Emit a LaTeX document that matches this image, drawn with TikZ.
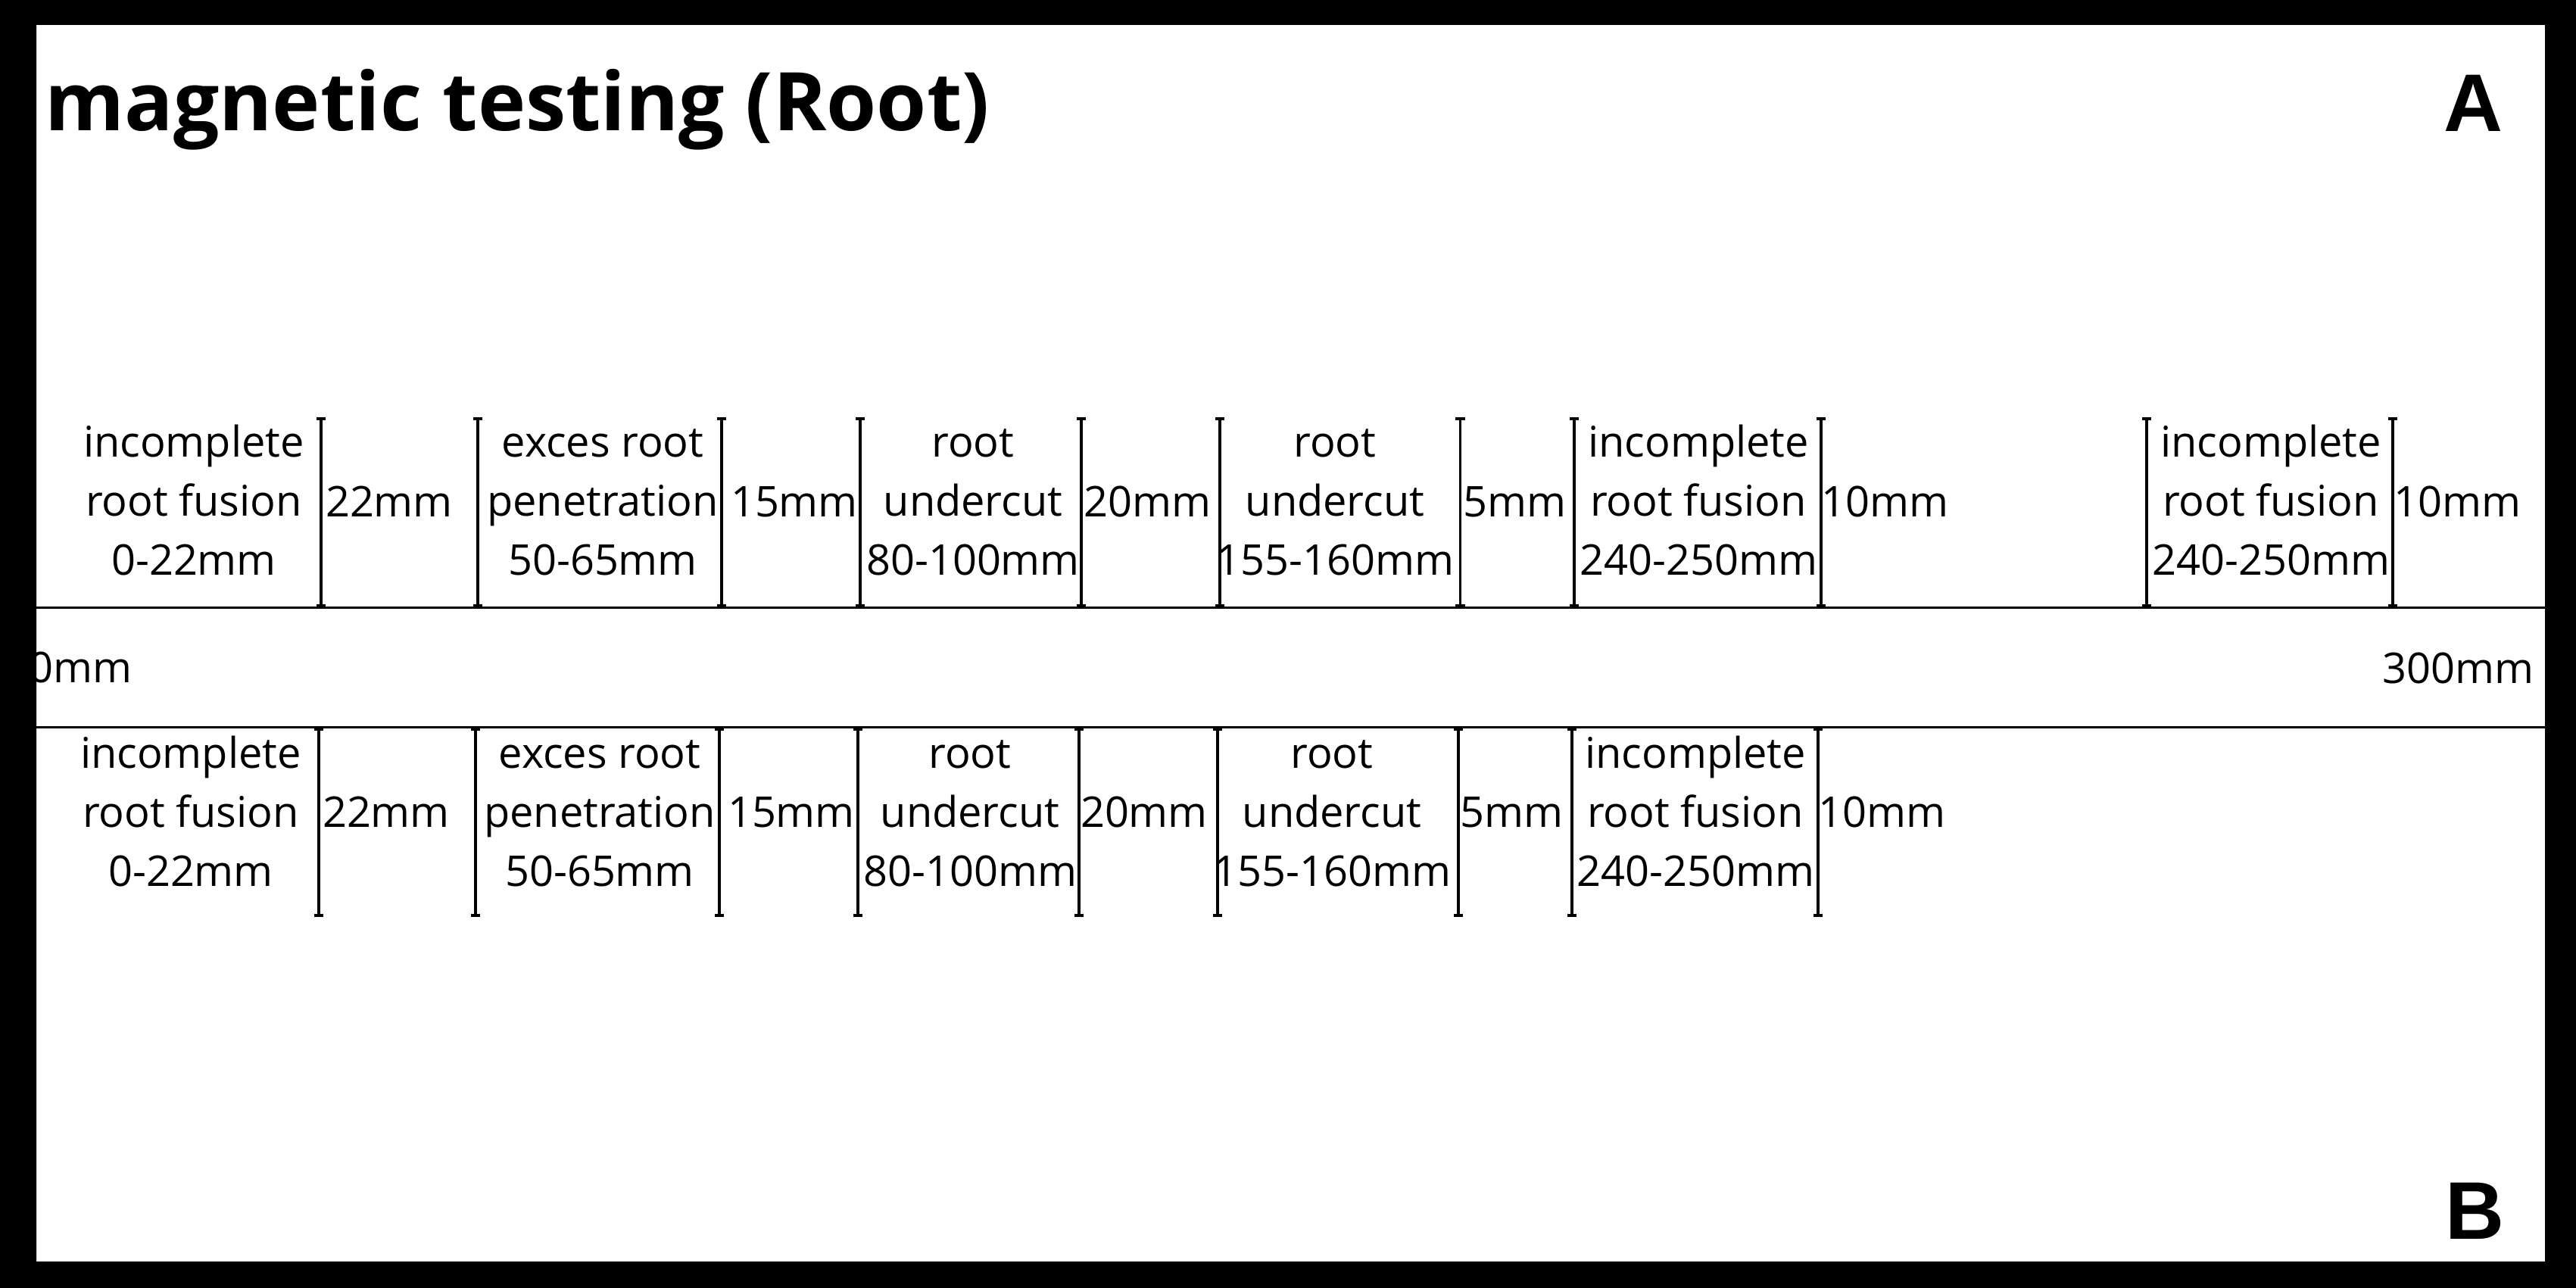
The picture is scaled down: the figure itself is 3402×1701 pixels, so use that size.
\documentclass[tikz,border=0pt]{standalone}
\usepackage{fontspec}
\setmainfont{Open Sans}
\newfontfamily\letterfont{Liberation Sans}
\usetikzlibrary{arrows.meta}
\begin{document}
\begin{tikzpicture}[x=0.01cm,y=-0.01cm,
  lbl/.style={inner sep=0pt,anchor=base,align=center,
    font=\fontsize{15.9}{22.2}\selectfont},
  dimbar/.style={line width=1pt,{Bar[width=3.5pt,line width=1.2pt]}-{Bar[width=3.5pt,line width=1.2pt]}},
  axisline/.style={line width=1.1pt},
  titlefont/.style={inner sep=0pt,font=\fontsize{30.4}{36}\selectfont\bfseries},
  cornerletter/.style={inner sep=0pt,anchor=base east,font=\fontsize{30.7}{36}\selectfont\letterfont\bfseries}]
\useasboundingbox (0,0) rectangle (3402,1701);
\fill[white] (0,0) rectangle (3402,1701);

% title and panel letters
\node[titlefont,anchor=base west] (title) at (59,173) {magnetic testing (Root)};
\node[cornerletter] (la) at (3306,174) {A};
\node[cornerletter] (lb) at (3308,1636) {B};

% weld length axis
\coordinate (axL1) at (48,802.5);
\coordinate (axR1) at (3361,802.5);
\coordinate (axL2) at (48,960.5);
\coordinate (axR2) at (3361,960.5);
\draw[axisline] (axL1) -- (axR1);
\draw[axisline] (axL2) -- (axR2);
\node[lbl,anchor=base east] (zero) at (175,902) {0mm};
\node[lbl] (end) at (3246,903) {300mm};

% upper row: dimension bars
\foreach \x [count=\i] in {424,631,953,1136,1428,1611,1928.5,2079,2405,2835,3160}{
  \coordinate (ut\i) at (\x,551);
  \coordinate (ub\i) at (\x,802);
  \draw[dimbar] (ut\i) -- (ub\i);
}
% upper row: labels (anchored on the baseline of the last line)
\node[lbl] (u1) at (256,760) {incomplete\\root fusion\\0-22mm};
\node[lbl] (ud1) at (514,683) {22mm};
\node[lbl] (u2) at (796,760) {exces root\\penetration\\50-65mm};
\node[lbl] (ud2) at (1049,683) {15mm};
\node[lbl] (u3) at (1285,760) {root\\undercut\\80-100mm};
\node[lbl] (ud3) at (1515,683) {20mm};
\node[lbl] (u4) at (1763,760) {root\\undercut\\155-160mm};
\node[lbl] (ud4) at (2000,683) {5mm};
\node[lbl] (u5) at (2243,760) {incomplete\\root fusion\\240-250mm};
\node[lbl] (ud5) at (2489,683) {10mm};
\node[lbl] (u6) at (2999,760) {incomplete\\root fusion\\240-250mm};
\node[lbl] (ud6) at (3245,683) {10mm};

% lower row: dimension bars
\foreach \x [count=\i] in {421,628,950,1133,1425,1608,1926,2076,2401}{
  \coordinate (lt\i) at (\x,961);
  \coordinate (lo\i) at (\x,1211);
  \draw[dimbar] (lt\i) -- (lo\i);
}
% lower row: labels
\node[lbl] (b1) at (252,1171) {incomplete\\root fusion\\0-22mm};
\node[lbl] (bd1) at (510,1093) {22mm};
\node[lbl] (b2) at (792,1171) {exces root\\penetration\\50-65mm};
\node[lbl] (bd2) at (1045,1093) {15mm};
\node[lbl] (b3) at (1281,1171) {root\\undercut\\80-100mm};
\node[lbl] (bd3) at (1511,1093) {20mm};
\node[lbl] (b4) at (1759,1171) {root\\undercut\\155-160mm};
\node[lbl] (bd4) at (1996,1093) {5mm};
\node[lbl] (b5) at (2239,1171) {incomplete\\root fusion\\240-250mm};
\node[lbl] (bd5) at (2485,1093) {10mm};

% black frame
\fill[black,even odd rule] (0,0) rectangle (3402,1701) (48,33) rectangle (3361,1666);
\end{tikzpicture}
\end{document}
